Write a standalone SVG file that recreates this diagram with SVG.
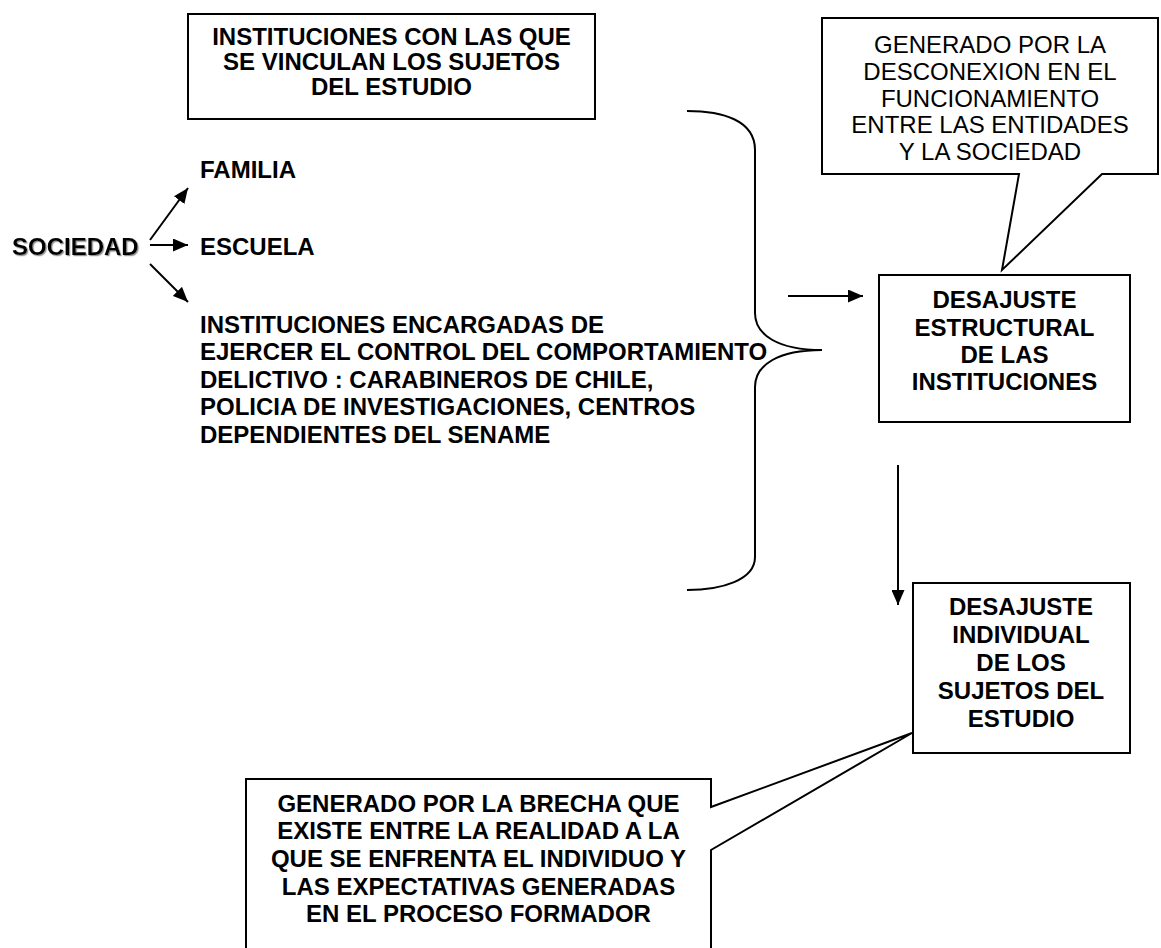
<svg xmlns="http://www.w3.org/2000/svg" width="1161" height="948" viewBox="0 0 1161 948">
<style>
  .box{fill:#fff;stroke:#000;stroke-width:2}
  .ln{fill:none;stroke:#000;stroke-width:2}
  .b{font-family:"Liberation Sans",Arial,sans-serif;font-weight:bold;font-size:24px;fill:#000}
  .r{font-family:"Liberation Sans",Arial,sans-serif;font-weight:normal;font-size:24px;fill:#000}
  .c{text-anchor:middle}
</style>
<defs>
  <marker id="ah" viewBox="0 0 15 13" refX="15" refY="6.5" markerWidth="15" markerHeight="13" markerUnits="userSpaceOnUse" orient="auto">
    <path d="M0,0 L15,6.5 L0,13 z" fill="#000"/>
  </marker>
  <filter id="sh" x="-10%" y="-30%" width="130%" height="160%">
    <feDropShadow dx="1.2" dy="1.2" stdDeviation="0.6" flood-color="#888" flood-opacity="0.9"/>
  </filter>
</defs>
<rect width="1161" height="948" fill="#fff"/>

<g id="connectors">
  <line class="ln" x1="150" y1="240" x2="188" y2="188" marker-end="url(#ah)"/>
  <line class="ln" x1="150" y1="245" x2="188" y2="245" marker-end="url(#ah)"/>
  <line class="ln" x1="150" y1="264" x2="188" y2="302" marker-end="url(#ah)"/>
  <path id="brace" class="ln" d="M687,111 C722,111 755,120 755,150 L755,313 C755,335 778,350 822,350 C778,350 755,365 755,387 L755,557 C755,580 722,590 687,590"/>
  <line class="ln" x1="788" y1="296" x2="863" y2="296" marker-end="url(#ah)"/>
  <line class="ln" x1="898" y1="465" x2="898" y2="605" marker-end="url(#ah)"/>
</g>

<g id="node-instituciones-vinculan">
  <rect class="box" x="188" y="14" width="407" height="105"/>
  <text class="b c" x="391.5" y="45">INSTITUCIONES CON LAS QUE</text>
  <text class="b c" x="391.5" y="70">SE VINCULAN LOS SUJETOS</text>
  <text class="b c" x="391.5" y="95">DEL ESTUDIO</text>
</g>

<g id="node-callout-desconexion">
  <path class="box" d="M822,18 L1158,18 L1158,174 L1102,174 L1002,270 L1019,174 L822,174 Z"/>
  <text class="r c" x="990" y="53">GENERADO POR LA</text>
  <text class="r c" x="990" y="80">DESCONEXION EN EL</text>
  <text class="r c" x="990" y="107">FUNCIONAMIENTO</text>
  <text class="r c" x="990" y="133">ENTRE LAS ENTIDADES</text>
  <text class="r c" x="990" y="160">Y LA SOCIEDAD</text>
</g>

<g id="node-sociedad">
  <text class="b" x="12" y="255" filter="url(#sh)">SOCIEDAD</text>
</g>

<g id="node-familia">
  <text class="b" x="200" y="178">FAMILIA</text>
</g>

<g id="node-escuela">
  <text class="b" x="200" y="255">ESCUELA</text>
</g>

<g id="node-instituciones-control">
  <text class="b" x="200" y="333">INSTITUCIONES ENCARGADAS DE</text>
  <text class="b" x="200" y="360">EJERCER EL CONTROL DEL COMPORTAMIENTO</text>
  <text class="b" x="200" y="388">DELICTIVO : CARABINEROS DE CHILE,</text>
  <text class="b" x="200" y="415">POLICIA DE INVESTIGACIONES, CENTROS</text>
  <text class="b" x="200" y="443">DEPENDIENTES DEL SENAME</text>
</g>

<g id="node-desajuste-estructural">
  <rect class="box" x="879" y="275" width="251" height="147"/>
  <text class="b c" x="1004.5" y="308">DESAJUSTE</text>
  <text class="b c" x="1004.5" y="336">ESTRUCTURAL</text>
  <text class="b c" x="1004.5" y="363">DE LAS</text>
  <text class="b c" x="1004.5" y="390">INSTITUCIONES</text>
</g>

<g id="node-desajuste-individual">
  <rect class="box" x="913" y="583" width="217" height="170"/>
  <text class="b c" x="1021" y="615">DESAJUSTE</text>
  <text class="b c" x="1021" y="643">INDIVIDUAL</text>
  <text class="b c" x="1021" y="671">DE LOS</text>
  <text class="b c" x="1021" y="699">SUJETOS DEL</text>
  <text class="b c" x="1021" y="727">ESTUDIO</text>
</g>

<g id="node-callout-brecha">
  <path class="box" d="M246,962 L246,779 L711,779 L711,807 L912,733 L711,850 L711,962 Z"/>
  <text class="b c" x="478.5" y="812">GENERADO POR LA BRECHA QUE</text>
  <text class="b c" x="478.5" y="839">EXISTE ENTRE LA REALIDAD A LA</text>
  <text class="b c" x="478.5" y="867">QUE SE ENFRENTA EL INDIVIDUO Y</text>
  <text class="b c" x="478.5" y="895">LAS EXPECTATIVAS GENERADAS</text>
  <text class="b c" x="478.5" y="922">EN EL PROCESO FORMADOR</text>
</g>
</svg>
